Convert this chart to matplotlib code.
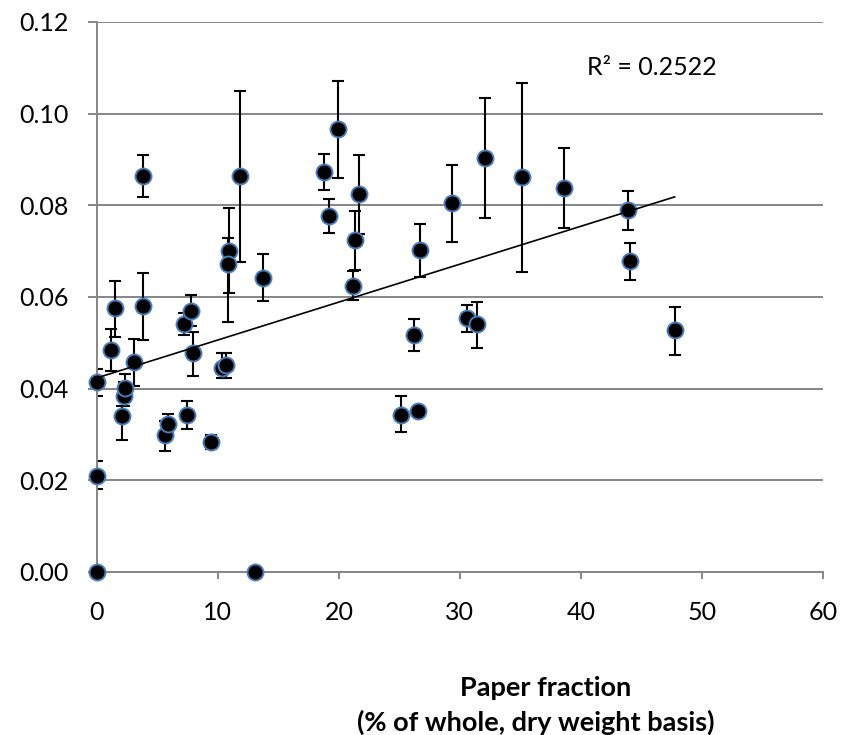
import matplotlib
matplotlib.use('Agg')
import matplotlib.pyplot as plt
import numpy as np

# paper fraction (% of whole, dry weight basis)
paper = [0.0, 0.0, 0.0, 13.1, 1.2, 1.5, 2.05, 2.2, 2.3, 3.05,
         3.8, 3.8, 5.65, 5.85, 7.2, 7.45, 7.75, 7.95, 9.45, 10.3,
         10.7, 10.95, 10.85, 11.8, 13.7, 18.75, 19.2, 19.95, 21.15, 21.35,
         21.7, 25.1, 26.2, 26.5, 26.7, 29.35, 30.6, 31.45, 32.05, 35.1,
         38.6, 43.9, 44.1, 47.75]
# measured value
value = [0.0414, 0.0210, 0.0, 0.0, 0.0484, 0.0575, 0.0340, 0.0385, 0.0401, 0.0458,
         0.0864, 0.0580, 0.0299, 0.0323, 0.0541, 0.0343, 0.0570, 0.0477, 0.0284, 0.0446,
         0.0452, 0.0701, 0.0671, 0.0864, 0.0642, 0.0872, 0.0777, 0.0966, 0.0624, 0.0725,
         0.0824, 0.0343, 0.0517, 0.0351, 0.0703, 0.0804, 0.0554, 0.0540, 0.0904, 0.0862,
         0.0837, 0.0789, 0.0679, 0.0528]
# error bars (upper / lower)
err_up = [0.0028, 0.0032, 0.0, 0.0, 0.0046, 0.0060, 0.0022, 0.0030, 0.0031, 0.0050,
          0.0046, 0.0072, 0.0030, 0.0022, 0.0023, 0.0031, 0.0034, 0.0047, 0.0015, 0.0031,
          0.0025, 0.0093, 0.0057, 0.0186, 0.0051, 0.0040, 0.0036, 0.0105, 0.0033, 0.0063,
          0.0086, 0.0040, 0.0034, 0.0005, 0.0057, 0.0084, 0.0029, 0.0050, 0.0131, 0.0204,
          0.0088, 0.0042, 0.0038, 0.0051]
err_down = [0.0030, 0.0030, 0.0, 0.0, 0.0045, 0.0062, 0.0053, 0.0023, 0.0020, 0.0052,
            0.0045, 0.0074, 0.0035, 0.0020, 0.0024, 0.0032, 0.0034, 0.0049, 0.0015, 0.0023,
            0.0029, 0.0093, 0.0125, 0.0188, 0.0051, 0.0039, 0.0037, 0.0106, 0.0031, 0.0066,
            0.0087, 0.0038, 0.0035, 0.0005, 0.0059, 0.0085, 0.0030, 0.0051, 0.0132, 0.0207,
            0.0087, 0.0043, 0.0042, 0.0055]

x_ticks = [0, 10, 20, 30, 40, 50, 60]
y_ticks = [0.00, 0.02, 0.04, 0.06, 0.08, 0.10, 0.12]
r2_label = 'R\u00b2 = 0.2522'

GRAY = '#868686'


def plot_paper_fraction():
    '''scatter of value vs paper fraction with error bars and linear trendline'''
    plt.rcParams['font.family'] = ['Lato', 'DejaVu Sans']

    fig = plt.figure(figsize=(8.52, 7.35), dpi=100)
    ax = fig.add_axes([0.1138, 0.2218, 0.852, 0.7483])

    x = np.array(paper)
    y = np.array(value)

    # error bars first, markers on top (markers not clipped at x=0)
    ax.errorbar(x, y, yerr=[err_down, err_up], fmt='none', ecolor='black',
                elinewidth=1.5, capsize=4, capthick=1.5, zorder=2)
    ax.plot(x, y, 'o', markersize=11.5, markerfacecolor='black',
            markeredgecolor='#4A7EBB', markeredgewidth=1.4,
            clip_on=False, zorder=3)

    # linear trendline over the data range
    slope, intercept = np.polyfit(x, y, 1)
    xs = np.array([x.min(), x.max()])
    ax.plot(xs, slope * xs + intercept, color='black', lw=1.2, zorder=4)

    # R^2 label, placed in axes fraction
    ax.text(0.675, 0.917, r2_label, fontsize=18, ha='left', va='center',
            transform=ax.transAxes)

    ax.set_xlim(0, 60)
    ax.set_ylim(0, 0.12)
    ax.set_xticks(x_ticks)
    ax.set_yticks(y_ticks)
    ax.set_yticklabels(['%.2f' % t for t in y_ticks])

    ax.yaxis.grid(True, color=GRAY, lw=1.4)
    ax.set_axisbelow(True)
    for side in ['top', 'right']:
        ax.spines[side].set_visible(False)
    for side in ['left', 'bottom']:
        ax.spines[side].set_color(GRAY)
        ax.spines[side].set_linewidth(1.4)

    ax.tick_params(axis='both', direction='out', color=GRAY, width=1.4,
                   labelsize=18)
    ax.tick_params(axis='y', length=6.5, pad=14)
    ax.tick_params(axis='x', length=5, pad=16)

    fig.text(546 / 852, 1 - 688 / 735, 'Paper fraction', fontsize=19.5,
             fontweight='bold', ha='center', va='center')
    fig.text(536 / 852, 1 - 722 / 735, '(% of whole, dry weight basis)',
             fontsize=19.5, fontweight='bold', ha='center', va='center')

    fig.savefig('out.png', dpi=100)
    return


if __name__ == '__main__':
    plot_paper_fraction()
